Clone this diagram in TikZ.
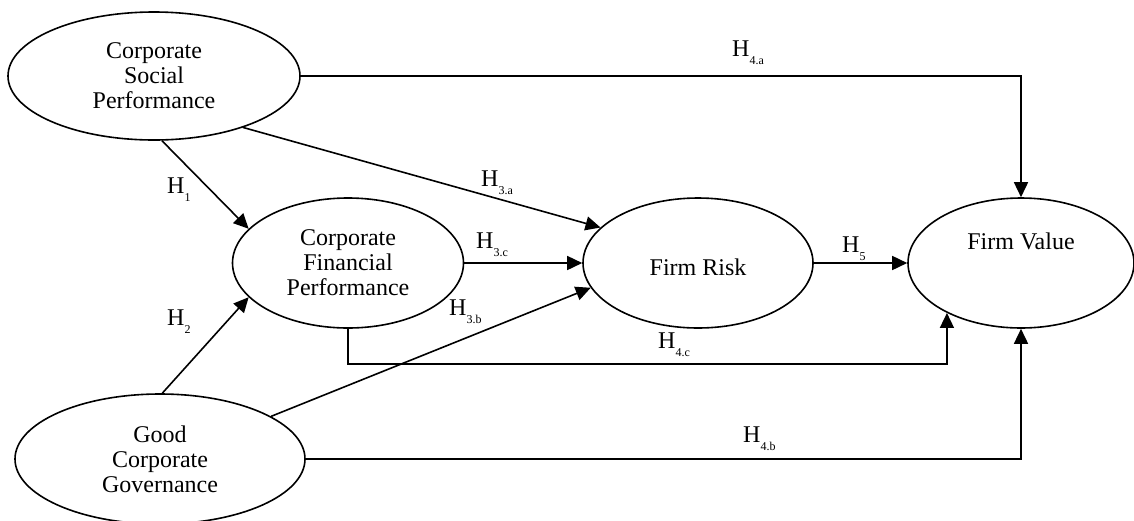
\documentclass[tikz,border=0pt]{standalone}
\usepackage{fontspec}
\setmainfont{Liberation Serif}
\usetikzlibrary{shapes.geometric,arrows.meta}
\newcommand{\hyp}[1]{H\raisebox{-8pt}{\fontsize{12}{12}\selectfont #1}}
\begin{document}
\begin{tikzpicture}[x=1pt, y=-1pt,
    font=\fontsize{24}{25}\selectfont,
    latent/.style = {draw, ellipse, line width=1.6pt, align=center, inner sep=0pt},
    arr/.style = {-{Triangle[length=15pt,width=14pt]}, line width=1.6pt},
    lab/.style = {anchor=base west, inner sep=0pt}]
        \useasboundingbox (0,0) rectangle (1134,520);
        \node[latent, minimum width=292pt, minimum height=128pt] (csp) at (154,76) {Corporate\\Social\\Performance};
        \node[latent, minimum width=231pt, minimum height=130pt] (cfp) at (348,263) {Corporate\\Financial\\Performance};
        \node[latent, minimum width=230pt, minimum height=130pt, text height=26pt] (fr) [right of=cfp, node distance=350pt] {Firm Risk};
        \node[latent, minimum width=226pt, minimum height=130pt, text depth=44pt] (fv) [right of=fr, node distance=323pt] {Firm Value};
        \node[latent, minimum width=290pt, minimum height=130pt] (gcg) at (160,459) {Good\\Corporate\\Governance};
        %
        \draw[arr] (csp.-83) -- (cfp.161);
        \draw[arr] (gcg.88) -- (cfp.199);
        \draw[arr] (csp.-30) -- (fr.160);
        \draw[arr] (cfp.east) -- (fr.west);
        \draw[arr] (gcg.21) -- (fr.193);
        \draw[arr] (fr.east) -- (fv.west);
        \draw[arr] (csp.east) -| (fv.north);
        \draw[arr] (gcg.east) -| (fv.south);
        \draw[arr] (cfp.south) -- ++(0,35) -| (fv.214);
        %
        \node[lab] (h1) at (167,193) {\hyp{1}};
        \node[lab] (h2) at (167,325) {\hyp{2}};
        \node[lab] (h3a) at (481,186) {\hyp{3.a}};
        \node[lab] (h3c) at (476,248) {\hyp{3.c}};
        \node[lab] (h3b) at (449,315) {\hyp{3.b}};
        \node[lab] (h4a) at (732,56) {\hyp{4.a}};
        \node[lab] (h4c) at (658,348) {\hyp{4.c}};
        \node[lab] (h4b) at (743,442) {\hyp{4.b}};
        \node[lab] (h5) at (842,252) {\hyp{5}};
      \end{tikzpicture}
\end{document}
